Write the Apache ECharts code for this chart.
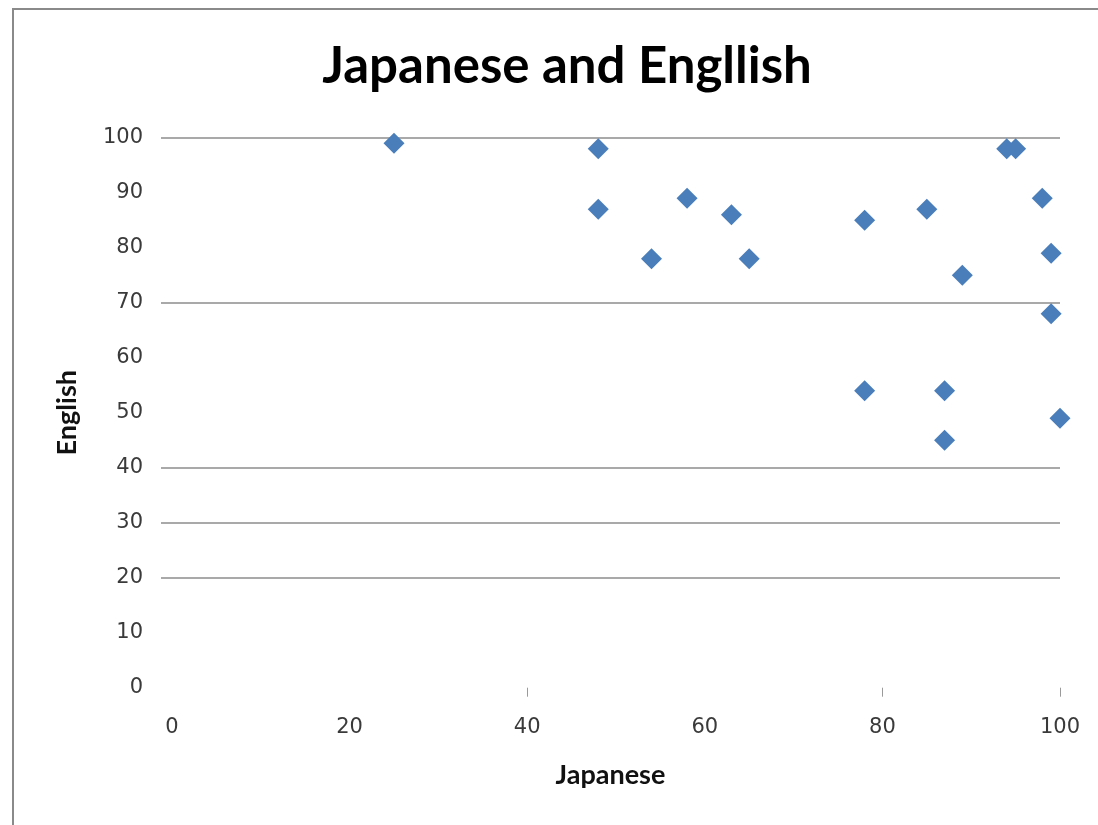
<!DOCTYPE html>
<html>
<head>
<meta charset="utf-8">
<script src="https://cdn.jsdelivr.net/npm/echarts@6/dist/echarts.min.js"></script>
<style>
  html, body { margin: 0; padding: 0; background: #fff; }
  #chart { width: 1098px; height: 825px; }
</style>
</head>
<body>
<div id="chart"></div>
<script>
// Scores: Japanese (x) against English (y)
const japanese = [25, 48, 48, 54, 58, 63, 65, 78, 78, 85, 87, 87, 89, 94, 95, 98, 99, 99, 100];
const english  = [99, 98, 87, 78, 89, 86, 78, 85, 54, 87, 54, 45, 75, 98, 98, 89, 79, 68, 49];
const xTickLabels = [0, 20, 40, 60, 80, 100];
const xTickMarks = [40, 80, 100];

const points = japanese.map((j, i) => [j, english[i]]);

const FONT = 'Lato, "Open Sans", sans-serif';
const TICK_FONT = '"DejaVu Sans", sans-serif';
const gridColor = '#8c8c8c';
const none = 'rgba(0,0,0,0)';

const chart = echarts.init(document.getElementById('chart'), null, { renderer: 'canvas' });
chart.setOption({
  backgroundColor: '#fff',
  animation: false,
  title: {
    text: 'Japanese and Engllish',
    left: 562,
    top: 36,
    textAlign: 'center',
    textStyle: { fontFamily: FONT, fontWeight: 'bold', fontSize: 51, color: '#000' }
  },
  graphic: [{
    type: 'rect',
    shape: { x: 13, y: 9, width: 1200, height: 900 },
    style: { fill: null, stroke: '#8a8a8a', lineWidth: 2 },
    silent: true
  }],
  grid: { left: 161, right: 38, top: 137.7, bottom: 137.3, containLabel: false },
  xAxis: {
    type: 'value',
    min: -1.24,
    max: 100,
    name: 'Japanese',
    nameLocation: 'middle',
    nameGap: 74,
    nameTextStyle: { fontFamily: FONT, fontWeight: 'bold', fontSize: 27, color: '#111' },
    axisLine: { show: false },
    axisTick: { show: true, customValues: xTickMarks, length: 9, lineStyle: { color: '#9a9a9a', width: 1 } },
    axisLabel: { customValues: xTickLabels, margin: 29, fontFamily: TICK_FONT, fontSize: 21, color: '#3a3a3a' },
    splitLine: { show: false }
  },
  yAxis: {
    type: 'value',
    min: 0,
    max: 100,
    interval: 10,
    name: 'English',
    nameLocation: 'middle',
    nameRotate: 90,
    nameGap: 80,
    nameTextStyle: { fontFamily: FONT, fontWeight: 'bold', fontSize: 27, color: '#111' },
    axisLine: { show: false },
    axisTick: { show: false },
    axisLabel: { margin: 18, fontFamily: TICK_FONT, fontSize: 21, color: '#3a3a3a' },
    splitLine: {
      show: true,
      lineStyle: {
        width: 1.6,
        color: [none, none, gridColor, gridColor, gridColor, none, none, gridColor, none, none, gridColor]
      }
    }
  },
  series: [{
    type: 'scatter',
    data: points,
    symbol: 'diamond',
    symbolSize: [21, 21],
    itemStyle: { color: '#4a7ebb', opacity: 1 }
  }]
});
</script>
</body>
</html>
